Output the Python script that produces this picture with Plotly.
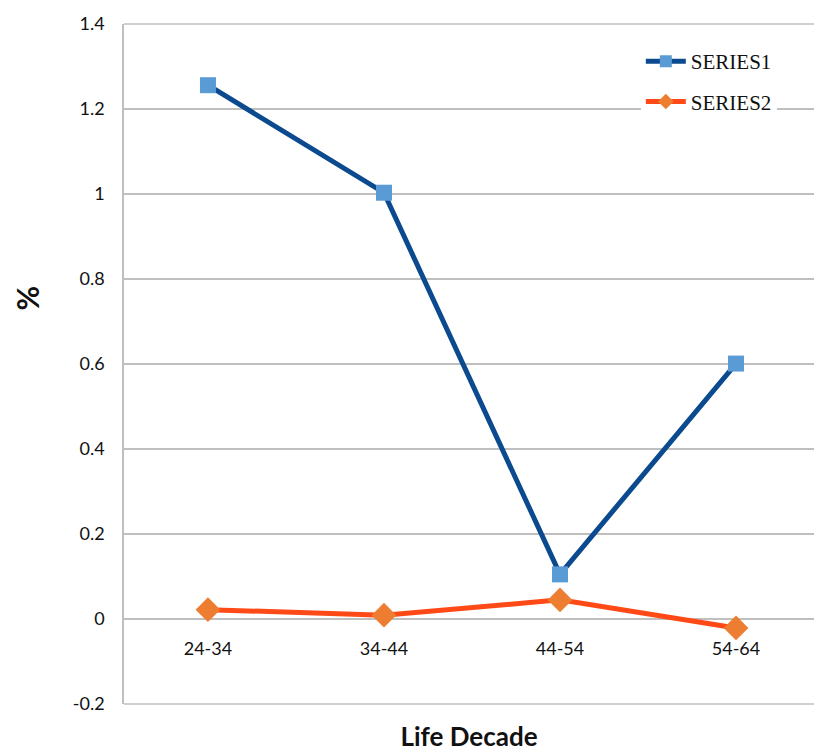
import plotly.graph_objects as go

# Percentages by life decade
decades = ["24-34", "34-44", "44-54", "54-64"]
series1 = [1.256, 1.003, 0.105, 0.601]
series2 = [0.022, 0.009, 0.045, -0.021]
y_ticks = [-0.2, 0, 0.2, 0.4, 0.6, 0.8, 1, 1.2, 1.4]
y_tick_text = ["-0.2", "0", "0.2", "0.4", "0.6", "0.8", "1", "1.2", "1.4"]
y_min, y_max = -0.2, 1.4

fig = go.Figure()
fig.add_trace(go.Scatter(
    x=decades, y=series1, name="SERIES1", mode="lines+markers",
    legendgroup="s1",
    line=dict(color="#0B4A8E", width=5),
    marker=dict(symbol="square", size=16, color="#5B9BD5"),
))
fig.add_trace(go.Scatter(
    x=decades, y=series2, name="SERIES2", mode="lines+markers",
    legendgroup="s2",
    line=dict(color="#FF4A17", width=5),
    marker=dict(symbol="diamond", size=19, color="#ED7D31"),
))

grid = "#BFBFBF"
tick_font = dict(family="Lato, sans-serif", size=18, color="#111111")

# gridlines along the top and bottom edges of the plot area
for yp in (0, 1):
    fig.add_shape(type="line", xref="paper", yref="paper", x0=0, x1=1, y0=yp, y1=yp,
                  line=dict(color=grid, width=1.5), layer="below")

# rotated value-axis title
fig.add_annotation(text="<b>%</b>", xref="paper", yref="y", x=-0.14, y=0.755,
                   xanchor="center", yanchor="middle", textangle=-90, showarrow=False,
                   font=dict(family="Lato, sans-serif", size=30, color="#111111"))

fig.update_layout(
    width=814, height=752,
    margin=dict(l=124, r=0, t=24, b=47.5),
    paper_bgcolor="white", plot_bgcolor="white",
    font=dict(family="Lato, sans-serif", size=18, color="#000000"),
    showlegend=True,
    legend=dict(
        x=0.749, y=0.975, xanchor="left", yanchor="top",
        bgcolor="white", tracegroupgap=10, itemsizing="constant",
        font=dict(family="Liberation Serif, serif", size=21, color="#111111"),
        itemwidth=40,
    ),
    xaxis=dict(
        type="category",
        range=[-0.477, 3.443],
        showgrid=False, zeroline=False, showline=False,
        ticks="", anchor="free", position=0.1252,
        ticklabelstandoff=17,
        tickfont=tick_font,
        title=dict(text="<b>Life Decade</b>", standoff=76,
                   font=dict(family="Lato, sans-serif", size=26, color="#111111")),
        automargin=False,
    ),
    yaxis=dict(
        range=[y_min, y_max],
        tickvals=y_ticks, ticktext=y_tick_text,
        showgrid=True, gridcolor=grid, gridwidth=1.5,
        zeroline=False,
        showline=True, linecolor=grid, linewidth=1.5,
        ticks="outside", ticklen=14, tickcolor="rgba(0,0,0,0)",
        tickfont=tick_font,
        automargin=False,
    ),
)

fig.write_html("out.html")
